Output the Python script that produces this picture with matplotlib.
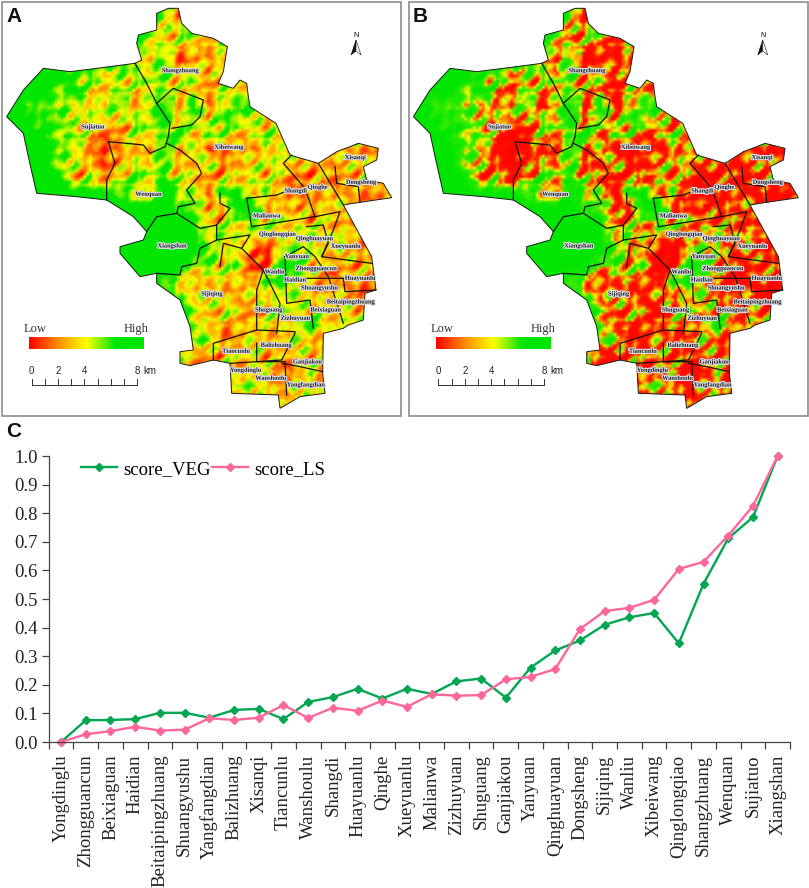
import numpy as np
import matplotlib
matplotlib.use('Agg')
import matplotlib.pyplot as plt
from matplotlib.colors import LinearSegmentedColormap
from matplotlib.patches import Polygon, Rectangle
import matplotlib.patheffects as pe

# Panel C data
towns = ['Yongdinglu', 'Zhongguancun', 'Beixiaguan', 'Haidian', 'Beitaipingzhuang', 'Shuangyushu',
         'Yangfangdian', 'Balizhuang', 'Xisanqi', 'Tiancunlu', 'Wanshoulu', 'Shangdi', 'Huayuanlu',
         'Qinghe', 'Xueyuanlu', 'Malianwa', 'Zizhuyuan', 'Shuguang', 'Ganjiakou', 'Yanyuan',
         'Qinghuayuan', 'Dongsheng', 'Sijiqing', 'Wanliu', 'Xibeiwang', 'Qinglongqiao', 'Shangzhuang',
         'Wenquan', 'Sujiatuo', 'Xiangshan']
score_veg = [0, .076, .077, .08, .102, .102, .085, .112, .116, .08, .14, .157, .186, .152, .186,
             .168, .212, .222, .155, .26, .32, .355, .41, .436, .451, .345, .553, .712, .786, 1.0]
score_ls = [0, .027, .038, .053, .04, .043, .083, .077, .085, .129, .084, .12, .109, .145, .123,
            .167, .162, .164, .219, .228, .255, .395, .458, .469, .497, .605, .63, .722, .825, 1.0]
yticks = [0, .1, .2, .3, .4, .5, .6, .7, .8, .9, 1.0]

# Map raster, read by eye on a coarse grid: 0 = low (red), 9 = high (green)
raster = [
    "9999999999995599999999999999",
    "9999999999962389999999999999",
    "9999999999736647999999999999",
    "9999999999653625299999999999",
    "9999999996472335699999999999",
    "9999967456574625369999999999",
    "9999794563763625647999999999",
    "9978656574684926874554999999",
    "9987745536593738653545999999",
    "9998763325669475456445699999",
    "9999754135384713525645433329",
    "9999553125473362345533334539",
    "9999925357684523463422333569",
    "9999999976497729937423533336",
    "9999999999997723992423443339",
    "9999999999999944575553433999",
    "9999999999999957654656663249",
    "9999999999999974500656343339",
    "9999999999999574701984333349",
    "9999999999975534538953333339",
    "9999999999997454344554432249",
    "9999999999999635424654454339",
    "9999999999999742544559554399",
    "9999999999999663344453399999",
    "9999999999994323453344399999",
    "9999999999995447444335319999",
    "9999999999999943655355439999",
    "9999999999999943343344339999",
    "9999999999999999999344999999",
]

# Small speckle tile for the fine land-cover texture, typed by hand
speckle = [
    "3355311223566421",
    "2356522113677532",
    "1245533224566321",
    "1123444335433112",
    "2211235664322123",
    "4332246775211234",
    "5543335664112356",
    "6653224432223466",
    "5542113322335565",
    "3321122344565543",
    "2122345566554322",
    "1134566654432112",
    "2245665332221134",
    "3445432211233456",
    "4433211123455565",
    "3432112345666543",
]

outline = [(505, 25), (535, 25), (545, 70), (575, 100), (640, 115), (682, 140), (670, 215), (655, 250),
           (700, 265), (720, 240), (740, 250), (745, 290), (750, 320), (828, 370), (870, 465), (955, 490),
           (1010, 455), (1050, 440), (1075, 430), (1135, 445), (1130, 480), (1090, 500), (1100, 540),
           (1150, 550), (1175, 593), (1060, 610), (1030, 615), (1115, 770), (1128, 870), (1095, 880),
           (1090, 960), (1045, 975), (1030, 985), (970, 1000), (968, 1120), (975, 1180), (900, 1190),
           (840, 1225), (835, 1185), (695, 1180), (690, 1090), (640, 1080), (570, 1097), (540, 1090),
           (540, 1055), (580, 1050), (570, 980), (540, 900), (470, 850), (470, 820), (420, 830), (360, 760),
           (360, 740), (430, 720), (440, 695), (400, 650), (320, 600), (230, 590), (110, 580), (85, 470),
           (70, 400), (20, 350), (70, 270), (130, 205), (210, 215), (290, 205), (405, 190), (425, 180),
           (410, 130), (415, 105), (470, 90), (470, 40)]
districts = [
    [(405, 190), (440, 250), (470, 310), (510, 370), (505, 410), (495, 440), (450, 460), (430, 435),
     (380, 430), (325, 425), (345, 490), (320, 540), (320, 600)],
    [(470, 310), (520, 265), (610, 300), (600, 350), (575, 375), (515, 385)],
    [(500, 430), (540, 450), (590, 490), (605, 520), (560, 570), (585, 610), (535, 620), (530, 640),
     (600, 685), (650, 675), (690, 625), (660, 610), (660, 580)],
    [(530, 640), (470, 650), (440, 695)],
    [(650, 675), (650, 720), (600, 745), (590, 790), (545, 800), (540, 825), (470, 820)],
    [(650, 720), (750, 705), (725, 745), (670, 730), (660, 800)],
    [(740, 595), (830, 585), (855, 575), (905, 580), (915, 565), (850, 490), (875, 465)],
    [(740, 595), (755, 680), (945, 650), (915, 565)],
    [(945, 650), (1020, 635), (1000, 690), (965, 770), (1115, 790)],
    [(955, 490), (1030, 615)],
    [(1005, 500), (1010, 550), (1075, 560), (1080, 605)],
    [(725, 745), (790, 810), (840, 910), (830, 1000)],
    [(790, 810), (770, 870), (770, 990), (640, 1030), (640, 1080)],
    [(855, 770), (860, 910), (930, 900), (940, 985)],
    [(855, 770), (910, 740), (945, 770), (985, 830), (1030, 970)],
    [(915, 835), (1030, 835), (1035, 875), (1128, 870)],
    [(1030, 835), (1125, 830)],
    [(770, 990), (885, 995), (885, 1000), (845, 1080), (770, 1085), (770, 1030)],
    [(690, 1090), (770, 1085), (855, 1085), (860, 1185)],
    [(845, 1090), (900, 1100), (968, 1115)],
    [(920, 680), (970, 675), (985, 730), (965, 770)],
]
map_labels = [('Shangzhuang', 540, 212), ('Sujiatuo', 278, 381), ('Xibeiwang', 687, 442), ('Xisanqi', 1066, 473),
              ('Dongsheng', 1083, 547), ('Wenquan', 445, 583), ('Shangdi', 887, 573), ('Qinghe', 953, 562),
              ('Malianwa', 800, 648), ('Qinglongqiao', 832, 703), ('Qinghuayuan', 943, 716), ('Xueyuanlu', 1037, 739),
              ('Xiangshan', 516, 738), ('Yanyuan', 890, 770), ('Zhongguancun', 948, 806), ('Wanliu', 824, 816),
              ('Haidian', 885, 840), ('Huayuanlu', 1080, 835), ('Shuangyushu', 958, 864), ('Sijiqing', 636, 882),
              ('Beitaipingzhuang', 1052, 906), ('Beixiaguan', 977, 930), ('Shuguang', 806, 930), ('Zizhuyuan', 886, 955),
              ('Balizhuang', 828, 1036), ('Tiancunlu', 708, 1054), ('Ganjiakou', 922, 1086), ('Yongdinglu', 737, 1111),
              ('Wanshoulu', 812, 1135), ('Yangfangdian', 917, 1155)]
scale_km = [0, 2, 4, 8]

cmap_a = LinearSegmentedColormap.from_list('a', [(0, '#FF0000'), (.3, '#FF8C00'), (.55, '#FFFF00'),
                                                 (.72, '#80F000'), (.88, '#00E600'), (1, '#00E600')])
cmap_b = LinearSegmentedColormap.from_list('b', [(0, '#FF0000'), (.4, '#FF1000'), (.54, '#FFA000'),
                                                 (.62, '#FFFF00'), (.72, '#40EC00'), (1, '#00E600')])
cmap_bar = LinearSegmentedColormap.from_list('bar', [(0, '#FF0000'), (.25, '#FF8C00'), (.5, '#FFFF00'),
                                                     (.75, '#00E600'), (1, '#00E600')])

plt.rcParams['font.family'] = ['Liberation Serif', 'DejaVu Serif']

fig = plt.figure(figsize=(8.09, 8.88), dpi=100)
canvas = fig.add_axes([0, 0, 1, 1])
canvas.set_xlim(0, 809)
canvas.set_ylim(888, 0)
canvas.axis('off')

# Upsample the coarse raster 5x and lay the speckle over the non-green parts
coarse = np.array([[int(c) for c in row] for row in raster], dtype=float)
tile = np.array([[int(c) for c in row] for row in speckle], dtype=float) - 3.3
rows, cols = coarse.shape
fine_r = np.linspace(0, rows - 1, rows * 5)
fine_c = np.linspace(0, cols - 1, cols * 5)
by_col = np.array([np.interp(fine_c, np.arange(cols), r) for r in coarse])
fine = np.array([np.interp(fine_r, np.arange(rows), c) for c in by_col.T]).T
reps = (fine.shape[0] // 16 + 1, fine.shape[1] // 16 + 1)
tex = np.tile(tile, reps)[:fine.shape[0], :fine.shape[1]]
tex2 = np.tile(np.rot90(tile)[::-1], reps)[:fine.shape[0], :fine.shape[1]]
grid = fine + 0.8 * (tex + tex2) * np.clip((9 - fine) / 2.0, 0, 1)


def draw_map(dx, cmap, frame_x, letter):
    canvas.add_patch(Rectangle((frame_x, 2), 399, 414, fc='white', ec='#8c8c8c', lw=1.2))
    img = canvas.imshow(grid, extent=(dx, dx + 401.3, 415.7, 0), cmap=cmap, vmin=0, vmax=9,
                        interpolation='bilinear', aspect='auto', zorder=2)
    pts = [(x / 3 + dx, y / 3) for x, y in outline]
    clip = Polygon(pts, closed=True, transform=canvas.transData, fc='none', ec='none')
    canvas.add_patch(clip)
    img.set_clip_path(clip)
    canvas.add_patch(Polygon(pts, closed=True, fc='none', ec='#1a1a1a', lw=0.7, zorder=3))
    for line in districts:
        xs = [p[0] / 3 + dx for p in line]
        ys = [p[1] / 3 for p in line]
        canvas.plot(xs, ys, color='#141414', lw=0.9, zorder=3)
    for name, x, y in map_labels:
        canvas.text(x / 3 + dx, y / 3, name, fontsize=4.6, fontweight='bold', color='#222222', ha='center',
                    va='center', zorder=4, path_effects=[pe.withStroke(linewidth=1.6, foreground='#dcdce6')])
    # Low / High colour bar
    bar = np.linspace(0, 1, 256).reshape(1, -1)
    canvas.imshow(bar, extent=(dx + 29.3, dx + 144, 349, 337), cmap=cmap_bar, aspect='auto', zorder=2)
    canvas.text(dx + 23.5, 329, 'Low', fontsize=9, color='#333333', ha='left', va='center', zorder=4)
    canvas.text(dx + 149, 329, 'High', fontsize=9, color='#333333', ha='right', va='center', zorder=4)
    # Scale bar
    x0, km = dx + 31.7, 13.2
    canvas.plot([x0, x0 + 8 * km], [385, 385], color='#333333', lw=0.7, zorder=4)
    for k in range(9):
        canvas.plot([x0 + k * km] * 2, [379, 385], color='#333333', lw=0.7, zorder=4)
    for v in scale_km:
        canvas.text(x0 + v * km, 371, str(v), fontsize=7, family='Liberation Sans', color='#222222',
                    ha='center', va='center', zorder=4)
    canvas.text(x0 + 8 * km + 6, 371, 'km', fontsize=7, family='Liberation Sans', color='#222222',
                ha='left', va='center', zorder=4)
    # North arrow
    nx = dx + 356
    canvas.add_patch(Polygon([(nx, 40), (nx - 5, 55), (nx, 51)], fc='#111111', ec='#111111', lw=0.4, zorder=4))
    canvas.add_patch(Polygon([(nx, 40), (nx + 5, 55), (nx, 51)], fc='white', ec='#111111', lw=0.4, zorder=4))
    canvas.text(nx, 35.5, 'N', fontsize=5, family='Liberation Sans', ha='center', va='center', zorder=4)
    canvas.text(frame_x + 4, 17, letter, fontsize=15, family='Liberation Sans', fontweight='bold',
                ha='left', va='center', color='#111111', zorder=5)


draw_map(0, cmap_a, 2, 'A')
draw_map(406.7, cmap_b, 409, 'B')
canvas.text(6, 431, 'C', fontsize=15, family='Liberation Sans', fontweight='bold', ha='left', va='center',
            color='#111111')

# Panel C line chart
ax = fig.add_axes([48.7 / 809, 1 - 742 / 888, (790 - 48.7) / 809, (742 - 456) / 888])
ax.patch.set_alpha(0)
x = np.arange(len(towns))
ax.plot(x, score_veg, '-D', color='#00A651', lw=1.7, ms=4.2, label='score_VEG', clip_on=False)
ax.plot(x, score_ls, '-D', color='#FF6699', lw=1.7, ms=4.2, label='score_LS', clip_on=False)
ax.set_xlim(-0.5, len(towns) - 0.5)
ax.set_ylim(0, 1)
ax.set_yticks(yticks)
ax.set_yticklabels(['%.1f' % v for v in yticks], fontsize=13.5, color='#222222')
ax.set_xticks(x)
ax.set_xticklabels(towns, rotation=90, fontsize=13.5, color='#222222')
ax.set_xticks(np.arange(-0.5, len(towns)), minor=True)
ax.tick_params(axis='x', which='major', length=0, pad=9)
ax.tick_params(axis='x', which='minor', length=5, width=0.9, color='#444444')
ax.tick_params(axis='y', length=5, width=0.9, color='#444444', pad=3)
for side in ['top', 'right']:
    ax.spines[side].set_visible(False)
for side in ['left', 'bottom']:
    ax.spines[side].set_color('#444444')
    ax.spines[side].set_linewidth(0.9)
ax.legend(loc='upper left', bbox_to_anchor=(0.039, 0.997), ncol=2, frameon=False, fontsize=13.5,
          handlelength=1.9, handletextpad=0.35, columnspacing=0.05, borderaxespad=0, borderpad=0.2)

fig.savefig('out.png', dpi=100)
